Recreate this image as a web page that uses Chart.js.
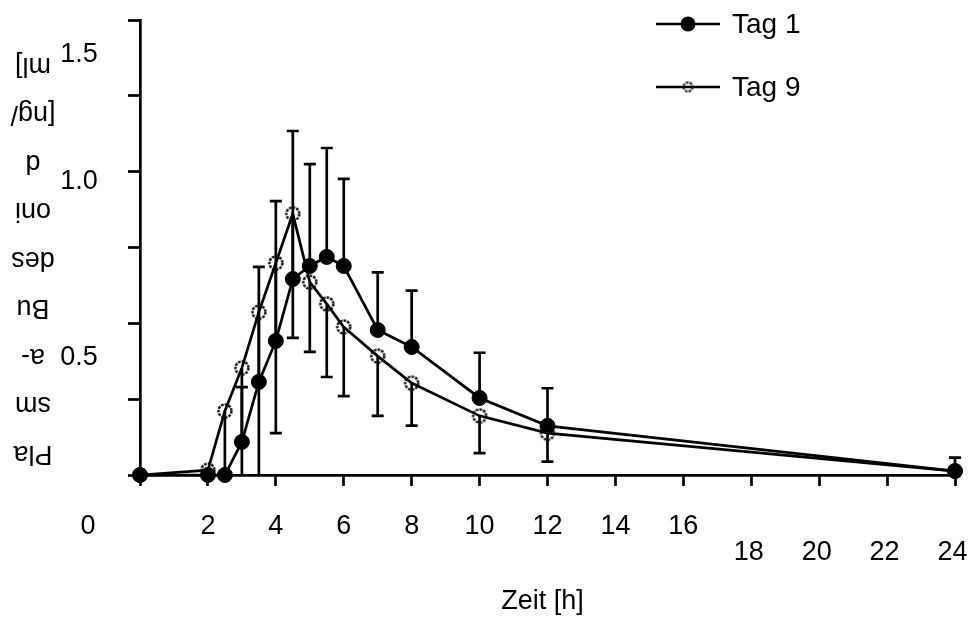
<!DOCTYPE html>
<html>
<head>
<meta charset="utf-8">
<script src="https://cdn.jsdelivr.net/npm/chart.js@4/dist/chart.umd.min.js"></script>
<style>
  html, body { margin: 0; padding: 0; background: #fff; }
  #wrap { width: 972px; height: 617px; }
</style>
</head>
<body>
<div id="wrap"><canvas id="chart" width="972" height="617"></canvas></div>
<script>
// Messzeitpunkte und Mittelwerte
const hours = [0, 2, 2.5, 3, 3.5, 4, 4.5, 5, 5.5, 6, 7, 8, 10, 12, 24];
const tag1 = [0, 0, 0, 0.109, 0.307, 0.442, 0.646, 0.689, 0.719, 0.689, 0.478, 0.422, 0.254, 0.162, 0.013];
const tag1Sd = [0, 0, 0, 0.181, 0.379, 0.461, 0.488, 0.336, 0.359, 0.287, 0.19, 0.186, 0.149, 0.124, 0.044];
const tag9 = [0, 0.016, 0.211, 0.353, 0.537, 0.699, 0.861, 0.636, 0.564, 0.488, 0.392, 0.303, 0.195, 0.138, 0.013];
const tag9Sd = [0, 0, 0.25, 0.4, 0.56, 0.561, 0.409, 0.23, 0.241, 0.228, 0.197, 0.14, 0.123, 0.094, 0.02];

const xTicks = [0, 2, 4, 6, 8, 10, 12, 14, 16, 18, 20, 22, 24];
const yTicks = [1.5, 1.0, 0.5];
const yTitleLines = ['Pla', 'sm', 'a-', 'Bu', 'des', 'oni', 'd', '[ng/', 'ml]'];
const seriesNames = ['Tag 1', 'Tag 9'];

const FONT = '27px "Liberation Sans", Arial, sans-serif';

// offener Kreis mit gestricheltem Rand
function openCircle(r, lw) {
  const s = Math.ceil(2 * r + lw + 2);
  const c = document.createElement('canvas');
  c.width = s; c.height = s;
  const g = c.getContext('2d');
  g.strokeStyle = '#111';
  g.lineWidth = lw;
  g.setLineDash([2.6, 1.1]);
  g.beginPath();
  g.arc(s / 2, s / 2, r, 0, Math.PI * 2);
  g.stroke();
  return c;
}
const openMarker = openCircle(6.5, 2.4);
const openMarkerSmall = openCircle(4.5, 2);

// Fehlerbalken: Tag 1 nach oben, Tag 9 nach unten
const errorBars = {
  id: 'errorBars',
  beforeDatasetsDraw(chart) {
    const { ctx, chartArea: a, scales: { x, y } } = chart;
    ctx.save();
    ctx.beginPath();
    ctx.rect(a.left - 20, a.top - 20, a.right - a.left + 40, a.bottom - a.top + 20);
    ctx.clip();
    ctx.strokeStyle = '#000';
    ctx.lineWidth = 2.7;
    const sets = [[tag1, tag1Sd, 1], [tag9, tag9Sd, -1]];
    sets.forEach(([vals, sd, dir]) => {
      hours.forEach((h, i) => {
        if (!sd[i]) return;
        const px = x.getPixelForValue(h);
        const p0 = y.getPixelForValue(vals[i]);
        const p1 = y.getPixelForValue(vals[i] + dir * sd[i]);
        ctx.beginPath();
        ctx.moveTo(px, p0); ctx.lineTo(px, p1);
        ctx.moveTo(px - 6, p1); ctx.lineTo(px + 6, p1);
        ctx.stroke();
      });
    });
    ctx.restore();
  }
};

// Beschriftungen, wie im Original versetzt
const labels = {
  id: 'labels',
  afterDraw(chart) {
    const { ctx, chartArea: a, scales: { x, y } } = chart;
    ctx.save();
    ctx.fillStyle = '#000';
    ctx.font = FONT;
    ctx.textAlign = 'center';
    ctx.textBaseline = 'middle';

    xTicks.forEach(v => {
      let px = x.getPixelForValue(v), py = a.bottom + 52;
      if (v === 0) px -= 52;
      if (v >= 18) { px -= 2.5; py += 26; }
      ctx.fillText(String(v), px, py);
    });
    const yOff = { '1.5': 35, '1': 10, '0.5': 34 };
    yTicks.forEach(v => {
      ctx.fillText(v.toFixed(1), 79, y.getPixelForValue(v) + yOff[String(v)]);
    });

    ctx.fillText('Zeit [h]', (a.left + a.right) / 2 - 5, 602);

    // y-Titel, um 180 Grad gedreht
    yTitleLines.forEach((t, i) => {
      ctx.save();
      ctx.translate(33, 453 - i * 48.5);
      ctx.rotate(Math.PI);
      ctx.fillText(t, 0, 0);
      ctx.restore();
    });

    // Legende
    ctx.font = '28px "Liberation Sans", Arial, sans-serif';
    ctx.textAlign = 'left';
    ctx.lineWidth = 2.7;
    ctx.strokeStyle = '#000';
    [24, 87].forEach((ly, i) => {
      ctx.beginPath();
      ctx.moveTo(656, ly); ctx.lineTo(720, ly);
      ctx.stroke();
      if (i === 0) {
        ctx.beginPath();
        ctx.arc(688, ly, 7.5, 0, Math.PI * 2);
        ctx.fill();
      } else {
        ctx.drawImage(openMarkerSmall, 688 - openMarkerSmall.width / 2, ly - openMarkerSmall.height / 2);
      }
      ctx.fillText(seriesNames[i], 732, ly + 1);
    });
    ctx.restore();
  }
};

const axisGrid = (len) => ({
  display: true,
  drawOnChartArea: false,
  drawTicks: true,
  tickLength: len,
  tickWidth: 2.7,
  tickColor: '#000'
});

new Chart(document.getElementById('chart'), {
  type: 'scatter',
  data: {
    datasets: [
      {
        label: seriesNames[0],
        data: hours.map((h, i) => ({ x: h, y: tag1[i] })),
        showLine: true,
        borderColor: '#000',
        borderWidth: 2.7,
        pointBackgroundColor: '#000',
        pointBorderColor: '#000',
        pointBorderWidth: 1,
        pointRadius: 7.5,
        clip: false
      },
      {
        label: seriesNames[1],
        data: hours.map((h, i) => ({ x: h, y: tag9[i] })),
        showLine: true,
        borderColor: '#000',
        borderWidth: 2.7,
        pointStyle: openMarker,
        pointRadius: 7,
        clip: false
      }
    ]
  },
  options: {
    responsive: false,
    animation: false,
    devicePixelRatio: 1,
    layout: { padding: { top: 20, right: 17, left: 0, bottom: 0 } },
    plugins: { legend: { display: false }, tooltip: { enabled: false } },
    scales: {
      x: {
        type: 'linear',
        min: 0, max: 24,
        afterFit(s) { s.height = 142; },
        ticks: { display: false, stepSize: 2 },
        grid: axisGrid(11),
        border: { display: true, color: '#000', width: 2.7 }
      },
      y: {
        min: 0, max: 1.5,
        afterFit(s) { s.width = 140; },
        ticks: { display: false, stepSize: 0.25 },
        grid: axisGrid(12),
        border: { display: true, color: '#000', width: 2.7 }
      }
    }
  },
  plugins: [errorBars, labels]
});
</script>
</body>
</html>
